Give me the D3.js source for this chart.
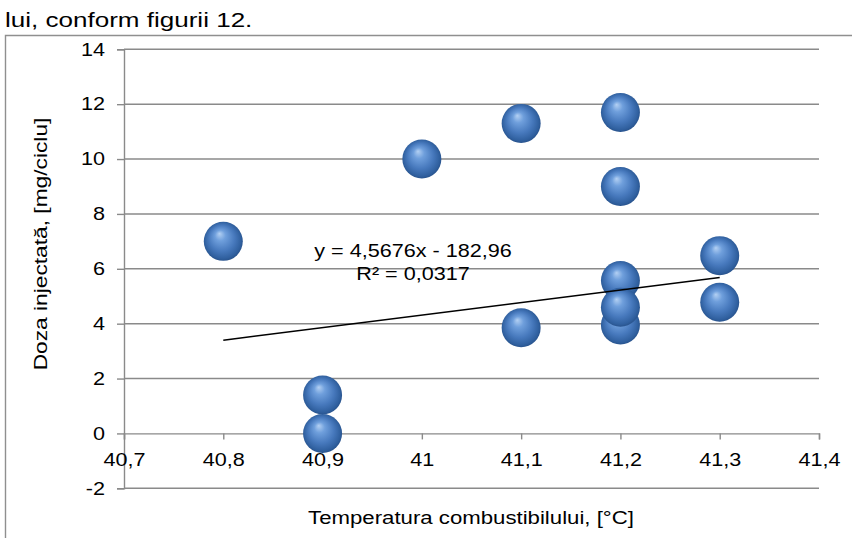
<!DOCTYPE html>
<html>
<head>
<meta charset="utf-8">
<script src="https://cdn.jsdelivr.net/npm/d3@7"></script>
<style>
  body { margin: 0; background: #fff; }
  svg { display: block; font-family: Arial, "Liberation Sans", sans-serif; }
</style>
</head>
<body>
<div id="chart"></div>
<script>
(function () {

// data
const tempX = [40.8, 40.9, 40.9, 41, 41.1, 41.1, 41.2, 41.2, 41.2, 41.2, 41.2, 41.3, 41.3];
const dozaY = [7.0, 1.4, 0, 10.0, 11.3, 3.85, 11.7, 9.0, 5.57, 3.95, 4.6, 6.48, 4.78];

const xTicks = [40.7, 40.8, 40.9, 41, 41.1, 41.2, 41.3, 41.4];
const yTicks = [-2, 0, 2, 4, 6, 8, 10, 12, 14];

// trendline as printed on the chart
const trendSlope = 4.5676, trendIntercept = -182.96;
const trendLabel = ["y = 4,5676x - 182,96", "R² = 0,0317"];

const width = 852, height = 538;
const plot = {left: 124, right: 819, top: 49.3, bottom: 488.3};
const stretch = 1.2; // the text in the picture is a bit wide

const svg = d3.select("#chart").append("svg")
    .attr("width", width)
    .attr("height", height);

const x = d3.scaleLinear([40.7, 41.4], [plot.left, plot.right]);
const y = d3.scaleLinear([-2, 14], [plot.bottom, plot.top]);

// sphere look of the markers
const defs = svg.append("defs");
const grad = defs.append("radialGradient")
    .attr("id", "ball")
    .attr("cx", "50%").attr("cy", "50%").attr("r", "55%")
    .attr("fx", "40%").attr("fy", "30%");
grad.append("stop").attr("offset", "0%").attr("stop-color", "#b3d0f3");
grad.append("stop").attr("offset", "25%").attr("stop-color", "#6f9fdc");
grad.append("stop").attr("offset", "60%").attr("stop-color", "#4779bd");
grad.append("stop").attr("offset", "85%").attr("stop-color", "#30609f");
grad.append("stop").attr("offset", "100%").attr("stop-color", "#234a80");

// text above the chart (from the document)
svg.append("text")
    .attr("transform", "translate(5,26.5) scale(1.27,1)")
    .attr("font-size", 20.5)
    .attr("fill", "#000")
    .text("lui, conform figurii 12.");

// chart frame, cut by the picture on the right and bottom
svg.append("path")
    .attr("d", "M5.5," + (height + 2) + "V35.5H" + (width + 2))
    .attr("fill", "none")
    .attr("stroke", "#8f8f8f")
    .attr("stroke-width", 1.4);

// horizontal gridlines
svg.append("g")
  .selectAll("line")
  .data(yTicks.filter(d => d !== 0))
  .join("line")
    .attr("x1", plot.left).attr("x2", plot.right)
    .attr("y1", d => y(d)).attr("y2", d => y(d))
    .attr("stroke", "#8a8a8a")
    .attr("stroke-width", 1.4);

// y axis
const yAxis = svg.append("g")
    .attr("transform", "translate(" + plot.left + ",0)")
    .call(d3.axisLeft(y).tickValues(yTicks).tickSize(7).tickPadding(12).tickFormat(d => String(d)));
yAxis.select(".domain").attr("stroke", "#8a8a8a").attr("stroke-width", 1.4);
yAxis.selectAll(".tick line").attr("stroke", "#8a8a8a").attr("stroke-width", 1.4);
yAxis.selectAll(".tick text")
    .attr("font-size", 18)
    .attr("fill", "#000")
    .attr("font-family", null)
    .attr("x", -19 / stretch)
    .attr("transform", "scale(" + stretch + ",1)");

// x axis sits on y = 0
const xAxis = svg.append("g")
    .attr("transform", "translate(0," + y(0) + ")")
    .call(d3.axisBottom(x).tickValues(xTicks).tickSize(6).tickPadding(14)
      .tickFormat(d => String(+d.toFixed(1)).replace(".", ",")));
xAxis.select(".domain").attr("stroke", "#8a8a8a").attr("stroke-width", 1.4);
xAxis.selectAll(".tick line").attr("stroke", "#8a8a8a").attr("stroke-width", 1.4);
xAxis.selectAll(".tick text")
    .attr("font-size", 18)
    .attr("fill", "#000")
    .attr("font-family", null)
    .attr("transform", "scale(" + stretch + ",1)");

// axis titles
svg.append("text")
    .attr("transform", "translate(471,524) scale(" + stretch + ",1)")
    .attr("text-anchor", "middle")
    .attr("font-size", 18.5)
    .attr("fill", "#000")
    .text("Temperatura combustibilului, [°C]");

svg.append("text")
    .attr("transform", "translate(47,244) rotate(-90) scale(1.23,1)")
    .attr("text-anchor", "middle")
    .attr("font-size", 18.5)
    .attr("fill", "#000")
    .text("Doza injectată, [mg/ciclu]");

// points
svg.append("g")
  .selectAll("circle")
  .data(tempX.map((t, i) => ({t: t, d: dozaY[i]})))
  .join("circle")
    .attr("cx", p => x(p.t))
    .attr("cy", p => y(p.d))
    .attr("r", 19.5)
    .attr("fill", "url(#ball)");

// linear trendline over the range of the data
const tExt = d3.extent(tempX);
svg.append("line")
    .attr("x1", x(tExt[0])).attr("y1", y(trendSlope * tExt[0] + trendIntercept))
    .attr("x2", x(tExt[1])).attr("y2", y(trendSlope * tExt[1] + trendIntercept))
    .attr("stroke", "#000")
    .attr("stroke-width", 1.5);

svg.append("g")
  .selectAll("text")
  .data(trendLabel)
  .join("text")
    .attr("transform", (d, i) => "translate(413," + (256.5 + i * 23.5) + ") scale(" + stretch + ",1)")
    .attr("text-anchor", "middle")
    .attr("font-size", 18)
    .attr("fill", "#000")
    .text(d => d);

})()
</script>
</body>
</html>
